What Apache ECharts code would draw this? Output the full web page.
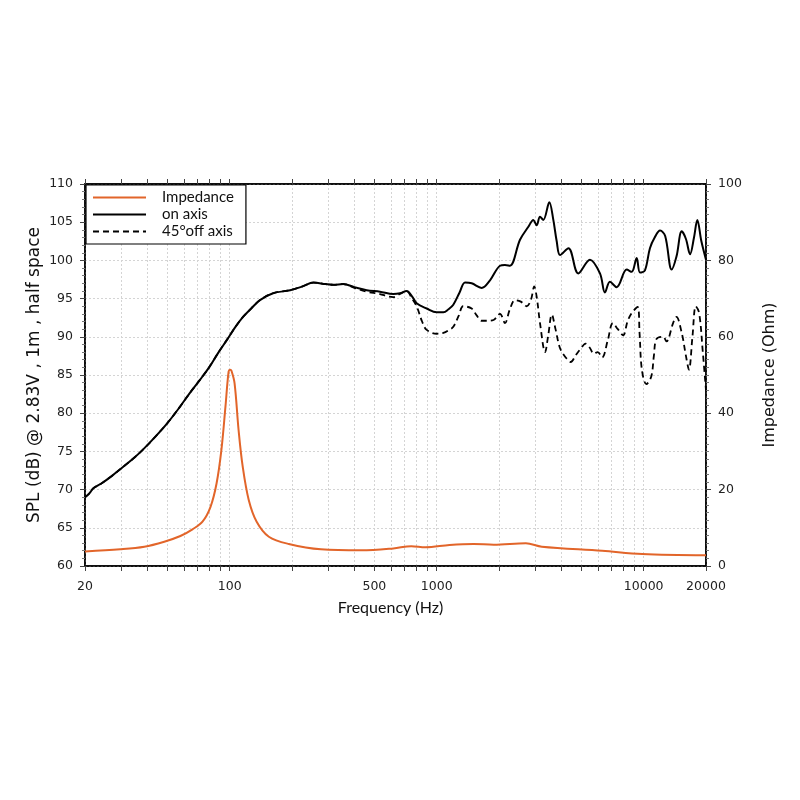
<!DOCTYPE html>
<html>
<head>
<meta charset="utf-8">
<script src="https://cdn.jsdelivr.net/npm/echarts@6/dist/echarts.min.js"></script>
<style>
  html, body { margin: 0; padding: 0; background: #fff; }
  #chart { width: 800px; height: 800px; }
</style>
</head>
<body>
<div id="chart"></div>
<script>
// on axis response
const freqOn = [20, 21, 22, 24, 27, 30, 34, 38, 44, 50, 57, 64, 72, 80, 88, 97, 106, 116, 128, 140, 162, 196, 225, 254, 290, 317, 354, 400, 459, 532, 617, 665, 716, 760, 800, 895, 1000, 1077, 1140, 1203, 1290, 1371, 1476, 1649, 1810, 2023, 2138, 2260, 2526, 2773, 2930, 3040, 3156, 3274, 3500, 3660, 3800, 3945, 4330, 4830, 5500, 6150, 6500, 6870, 7400, 8280, 8750, 9250, 9600, 10140, 10720, 11300, 12000, 12700, 13650, 14400, 15270, 16000, 16750, 17500, 18160, 19000, 20000];
const splOn = [69.0, 69.5, 70.2, 70.8, 71.8, 72.8, 74.0, 75.2, 77.0, 78.7, 80.7, 82.6, 84.4, 86.1, 87.9, 89.6, 91.2, 92.6, 93.8, 94.8, 95.7, 96.1, 96.6, 97.1, 96.9, 96.8, 96.9, 96.5, 96.1, 95.9, 95.6, 95.7, 96.0, 95.3, 94.4, 93.7, 93.2, 93.2, 93.6, 94.2, 95.8, 97.1, 97.0, 96.4, 97.4, 99.3, 99.4, 99.3, 102.7, 104.4, 105.3, 104.6, 105.7, 105.3, 107.6, 105.3, 102.5, 100.7, 101.6, 98.3, 100.1, 98.3, 95.8, 97.2, 96.5, 98.8, 98.5, 100.3, 98.4, 98.7, 101.6, 103.0, 103.9, 103.2, 98.8, 100.5, 103.8, 102.8, 100.8, 103.0, 105.3, 102.5, 100.1];

// 45 deg off axis response (follows the on axis curve below ~500 Hz)
const freqOff = [20, 21, 22, 24, 27, 30, 34, 38, 44, 50, 57, 64, 72, 80, 88, 97, 106, 116, 128, 140, 162, 196, 225, 254, 290, 317, 354, 400, 459, 532, 580, 617, 665, 716, 760, 800, 850, 895, 1000, 1077, 1150, 1203, 1280, 1342, 1476, 1560, 1649, 1760, 1882, 2023, 2138, 2250, 2388, 2550, 2720, 2850, 2960, 3050, 3156, 3340, 3450, 3600, 3750, 3945, 4200, 4440, 4700, 4950, 5240, 5480, 5740, 6000, 6300, 6700, 7100, 7500, 7960, 8350, 8750, 9340, 9550, 9800, 10300, 10880, 11200, 11520, 12410, 12880, 13870, 14400, 15270, 16000, 16540, 17200, 17850, 18540, 19300, 20000];
const splOff = [69.0, 69.5, 70.2, 70.8, 71.8, 72.8, 74.0, 75.2, 77.0, 78.7, 80.7, 82.6, 84.4, 86.1, 87.9, 89.6, 91.2, 92.6, 93.8, 94.8, 95.7, 96.1, 96.6, 97.1, 96.9, 96.8, 96.9, 96.4, 95.9, 95.6, 95.3, 95.2, 95.6, 96.0, 95.0, 94.0, 92.0, 90.9, 90.4, 90.5, 90.9, 91.3, 92.8, 94.0, 93.7, 92.8, 92.1, 92.1, 92.2, 93.0, 91.8, 93.5, 94.8, 94.6, 94.0, 94.8, 96.6, 95.0, 91.8, 88.0, 90.0, 92.9, 91.0, 88.5, 87.3, 86.7, 87.6, 88.4, 89.1, 88.6, 87.8, 88.0, 87.3, 89.5, 91.8, 91.0, 90.2, 92.0, 93.1, 93.9, 90.5, 85.7, 83.8, 84.8, 87.5, 89.7, 90.0, 89.4, 91.8, 92.6, 90.5, 87.5, 85.7, 90.0, 94.0, 93.1, 88.0, 83.0];

// impedance (Ohm)
const freqZ = [20, 29.6, 38.7, 48.3, 57.8, 66.1, 73.9, 80.8, 86.4, 91.2, 95.4, 98.8, 100.5, 102, 105.6, 110.4, 115.6, 123.6, 135, 154.6, 193, 276, 432, 617, 754, 882, 1154, 1508, 1886, 2696, 3220, 6300, 9840, 20000];
const impZ = [3.8, 4.37, 5.05, 6.36, 7.85, 9.6, 11.6, 15.5, 21.6, 30.4, 41.7, 50.9, 51.4, 51.1, 47.8, 35.6, 26.0, 17.3, 11.6, 7.67, 5.76, 4.36, 4.1, 4.6, 5.2, 4.9, 5.5, 5.76, 5.58, 5.94, 5.05, 4.0, 3.14, 2.8];

// axis ticks and labels
const xTickFreqs = [20, 30, 40, 50, 60, 70, 80, 90, 100, 200, 300, 400, 500, 600, 700, 800, 900, 1000, 2000, 3000, 4000, 5000, 6000, 7000, 8000, 9000, 10000, 20000];
const xLabelFreqs = [20, 100, 500, 1000, 10000, 20000];

const ORANGE = '#e2652a';
const lg = (f) => Math.log10(f);
const pairs = (xs, ys) => xs.map((f, i) => [lg(f), ys[i]]);

const chart = echarts.init(document.getElementById('chart'));

const xAxisBase = {
    type: 'value',
    min: lg(20),
    max: lg(20000),
    axisLine: { show: true, onZero: false, lineStyle: { color: '#000', width: 1.5 } },
    axisTick: { show: true, length: 5, customValues: xTickFreqs.map(lg), lineStyle: { color: '#444' } },
    minorTick: { show: false },
};

const option = {
    animation: false,
    grid: {
        left: 85, right: 94, top: 184, bottom: 234,
        show: true, borderColor: '#000', borderWidth: 1.5,
    },
    legend: {
        left: 86, top: 185,
        orient: 'vertical',
        data: ['Impedance', 'on axis', '45°off axis'],
        itemWidth: 53, itemHeight: 12, itemGap: 2,
        padding: [5, 12, 5, 6],
        borderColor: '#000', borderWidth: 1.2, borderRadius: 0,
        backgroundColor: '#fff',
        itemStyle: { opacity: 0 },
        textStyle: { fontFamily: 'Lato', fontSize: 15, color: '#111', padding: [0, 0, 0, 11] },
    },
    xAxis: [
        {
            ...xAxisBase,
            position: 'bottom',
            name: 'Frequency (Hz)',
            nameLocation: 'middle',
            nameGap: 34,
            nameMoveOverlap: false,
            nameTextStyle: { fontFamily: 'Lato', fontSize: 16, color: '#111', padding: [0, 10, 0, 0] },
            axisLabel: {
                customValues: xLabelFreqs.map(lg),
                margin: 14,
                fontFamily: 'DejaVu Sans', fontSize: 12.5, color: '#222',
                formatter: (v) => String(Math.round(Math.pow(10, v))),
            },
            splitLine: { show: true, lineStyle: { color: '#d4d4d4', type: [2, 2], width: 1 } },
        },
        {
            ...xAxisBase,
            position: 'top',
            axisLabel: { show: false },
            splitLine: { show: false },
        },
    ],
    yAxis: [
        {
            type: 'value',
            min: 60, max: 110, interval: 5,
            position: 'left',
            name: 'SPL (dB) @ 2.83V , 1m , half space',
            nameLocation: 'middle',
            nameRotate: 90,
            nameGap: 42,
            nameMoveOverlap: false,
            nameTextStyle: { fontFamily: 'DejaVu Sans', fontSize: 17, color: '#111' },
            axisLine: { show: true, lineStyle: { color: '#000', width: 1.5 } },
            axisTick: { show: true, length: 5, lineStyle: { color: '#444' } },
            minorTick: { show: true, splitNumber: 5, length: 3, lineStyle: { color: '#777' } },
            axisLabel: { margin: 12, fontFamily: 'DejaVu Sans', fontSize: 12.5, color: '#222' },
            splitLine: { show: true, lineStyle: { color: '#d4d4d4', type: [2, 2], width: 1 } },
        },
        {
            type: 'value',
            min: 0, max: 100, interval: 20,
            position: 'right',
            name: 'Impedance (Ohm)',
            nameLocation: 'middle',
            nameRotate: 90,
            nameGap: 56,
            nameMoveOverlap: false,
            nameTextStyle: { fontFamily: 'DejaVu Sans', fontSize: 16, color: '#111' },
            axisLine: { show: true, lineStyle: { color: '#000', width: 1.5 } },
            axisTick: { show: true, length: 5, lineStyle: { color: '#444' } },
            minorTick: { show: true, splitNumber: 10, length: 3, lineStyle: { color: '#777' } },
            axisLabel: { margin: 12, fontFamily: 'DejaVu Sans', fontSize: 12.5, color: '#222' },
            splitLine: { show: false },
        },
    ],
    series: [
        {
            name: '45°off axis',
            type: 'line',
            xAxisIndex: 0, yAxisIndex: 0,
            data: pairs(freqOff, splOff),
            symbol: 'none',
            smooth: 0.35,
            lineStyle: { color: '#000', width: 1.8, type: [6, 4] },
            itemStyle: { color: '#000' },
        },
        {
            name: 'on axis',
            type: 'line',
            xAxisIndex: 0, yAxisIndex: 0,
            data: pairs(freqOn, splOn),
            symbol: 'none',
            smooth: 0.35,
            lineStyle: { color: '#000', width: 2 },
            itemStyle: { color: '#000' },
        },
        {
            name: 'Impedance',
            type: 'line',
            xAxisIndex: 0, yAxisIndex: 1,
            data: pairs(freqZ, impZ),
            symbol: 'none',
            smooth: 0.35,
            lineStyle: { color: ORANGE, width: 2 },
            itemStyle: { color: ORANGE },
        },
    ],
};

chart.setOption(option);
</script>
</body>
</html>
